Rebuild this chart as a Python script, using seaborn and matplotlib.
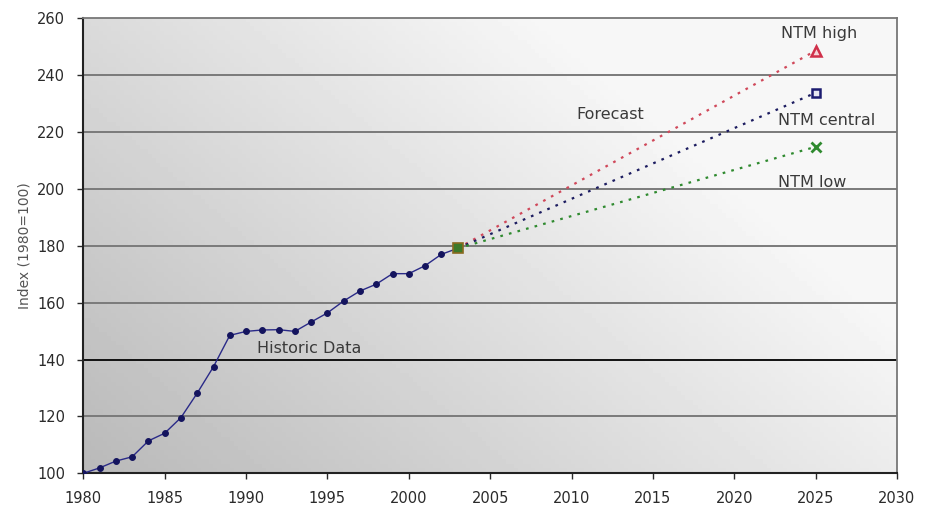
import numpy as np
import pandas as pd
import matplotlib
matplotlib.use("Agg")
import matplotlib.pyplot as plt
import seaborn as sns

# ---- data ----
hist_years = list(range(1980, 2004))
hist_index = [100, 101.9, 104.3, 105.8, 111.4, 114.1, 119.6, 128.2, 137.5, 148.5,
              149.9, 150.4, 150.5, 149.9, 153.2, 156.4, 160.6, 164.1, 166.5, 170.2,
              170.2, 173.0, 177.0, 179.1]
fc_years = [2003, 2025]
fc_high = [179.1, 248.6]
fc_central = [179.1, 233.8]
fc_low = [179.1, 214.8]
x_ticks = [1980, 1985, 1990, 1995, 2000, 2005, 2010, 2015, 2020, 2025, 2030]
y_ticks = [100, 120, 140, 160, 180, 200, 220, 240, 260]

sns.set_theme(style="white")
plt.rcParams['font.family'] = ['DejaVu Sans']

fig = plt.figure(figsize=(9.3, 5.08), dpi=100)
ax = fig.add_axes([0.0896, 0.0683, 0.9645 - 0.0896, 0.964 - 0.0683])

# gradient background
nx, ny = 200, 100
gx = np.linspace(0, 1, nx)[None, :]
gy = np.linspace(0, 1, ny)[:, None]
grad = np.clip(0.725 + 0.20 * gx + 0.13 * gy, 0, 0.965)
ax.imshow(grad, cmap='gray', vmin=0, vmax=1, extent=[0, 1, 0, 1],
          transform=ax.transAxes, aspect='auto', zorder=0, origin='lower')

ax.set_xlim(1980, 2030)
ax.set_ylim(100, 260)

for v in y_ticks[1:-1]:
    if v == 140:
        ax.axhline(v, color='#111111', lw=1.4, zorder=1)
    else:
        ax.axhline(v, color='#7a7a7a', lw=1.4, zorder=1)

hist_df = pd.DataFrame({'year': hist_years, 'index': hist_index})
sns.lineplot(data=hist_df, x='year', y='index', ax=ax, color='#2a2a88', lw=1.0,
             marker='o', markersize=4.2, markerfacecolor='#14145e',
             markeredgecolor='#14145e', zorder=3)

fc_df = pd.DataFrame({'year': fc_years * 3,
                      'index': fc_high + fc_central + fc_low,
                      'scenario': ['high'] * 2 + ['central'] * 2 + ['low'] * 2})
colors = {'high': '#d0485a', 'central': '#1c1c60', 'low': '#2f8a2f'}
for sc in ['high', 'central', 'low']:
    sub = fc_df[fc_df.scenario == sc]
    sns.lineplot(data=sub, x='year', y='index', ax=ax, color=colors[sc], lw=1.6,
                 linestyle=(0, (1.2, 2.8)), zorder=3)

ax.plot([fc_years[1]], [fc_high[1]], marker='^', markersize=6.5, mfc='#f4d4d8',
        mec='#d0304a', mew=1.8, zorder=4)
ax.plot([fc_years[1]], [fc_central[1]], marker='s', markersize=5.5, mfc='#e8e8f0',
        mec='#1c1c70', mew=1.8, zorder=4)
ax.plot([fc_years[1]], [fc_low[1]], marker='x', markersize=6.5, color='#2f8a2f',
        mew=2, zorder=4)
ax.plot([fc_years[0]], [fc_low[0]], marker='s', markersize=7.5, mfc='#3d7a2a',
        mec='#8a6a20', mew=1.2, zorder=5)

tc = '#3a3a3a'
fs = 11.5
ax.text(1990.7, 144, 'Historic Data', fontsize=fs, color=tc, va='center', ha='left')
ax.text(2010.3, 226, 'Forecast', fontsize=fs, color=tc, va='center', ha='left')
ax.text(2022.9, 254.8, 'NTM high', fontsize=fs, color=tc, va='center', ha='left')
ax.text(2022.7, 224.2, 'NTM central', fontsize=fs, color=tc, va='center', ha='left')
ax.text(2022.7, 202.1, 'NTM low', fontsize=fs, color=tc, va='center', ha='left')

ax.set_xticks(x_ticks)
ax.set_yticks(y_ticks)
ax.set_xticklabels([str(t) for t in x_ticks])
ax.set_yticklabels([str(t) for t in y_ticks])
ax.tick_params(axis='both', labelsize=10.5, colors='#2a2a2a', length=4, width=1,
               direction='out', bottom=True, left=True)
ax.tick_params(axis='x', pad=9)
ax.tick_params(axis='y', pad=9)
ax.set_xlabel('')
ax.set_ylabel('Index (1980=100)', fontsize=10, color='#555555', labelpad=4)

for s in ['left', 'bottom']:
    ax.spines[s].set_color('#222222')
    ax.spines[s].set_linewidth(1.5)
for s in ['top', 'right']:
    ax.spines[s].set_color('#777777')
    ax.spines[s].set_linewidth(1.3)

fig.patch.set_facecolor('white')
fig.savefig('out.png', dpi=100, facecolor='white')
